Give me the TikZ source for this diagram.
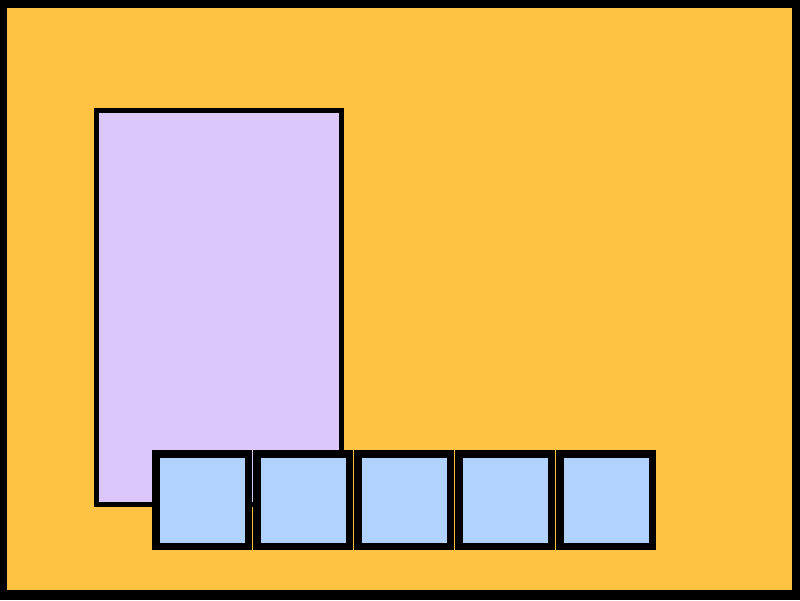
\documentclass[tikz,border=0pt]{standalone}
\usepackage{tikz}
\usetikzlibrary{positioning}
\usepackage{xcolor}
\definecolor{bgorange}{HTML}{FFC343}
\definecolor{panelpurple}{HTML}{DCC7FB}
\definecolor{cellblue}{HTML}{B1D1FF}

\begin{document}
\begin{tikzpicture}[
    x=1pt, y=-1pt,
    panel/.style={draw, line width=5pt, fill=panelpurple, inner sep=0pt, minimum width=245.5pt, minimum height=394pt},
    cell/.style={draw, line width=7.5pt, fill=cellblue, inner sep=0pt, minimum size=92.5pt}
]
\useasboundingbox (0,0) rectangle (800,600);
\fill[black] (0,0) rectangle (800,600);
\fill[bgorange] (7,8) rectangle (792,590);

\node[panel] (side) at (218.75,307) {};

\node[cell] (c1) at (202.25,500) {};
\node[cell, right=1pt of c1] (c2) {};
\node[cell, right=1pt of c2] (c3) {};
\node[cell, right=1pt of c3] (c4) {};
\node[cell, right=1pt of c4] (c5) {};
\end{tikzpicture}
\end{document}
